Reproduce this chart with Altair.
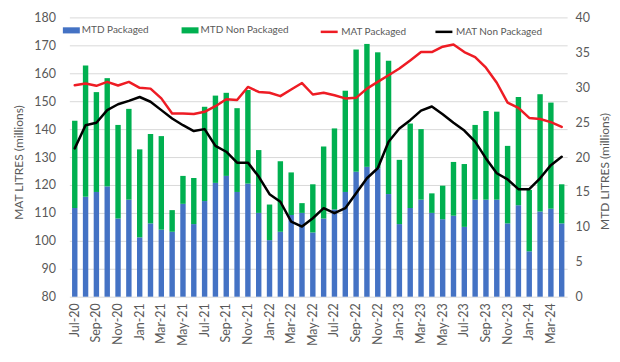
import altair as alt
import pandas as pd

months = [
    "Jul-20", "Aug-20", "Sep-20", "Oct-20", "Nov-20", "Dec-20",
    "Jan-21", "Feb-21", "Mar-21", "Apr-21", "May-21", "Jun-21",
    "Jul-21", "Aug-21", "Sep-21", "Oct-21", "Nov-21", "Dec-21",
    "Jan-22", "Feb-22", "Mar-22", "Apr-22", "May-22", "Jun-22",
    "Jul-22", "Aug-22", "Sep-22", "Oct-22", "Nov-22", "Dec-22",
    "Jan-23", "Feb-23", "Mar-23", "Apr-23", "May-23", "Jun-23",
    "Jul-23", "Aug-23", "Sep-23", "Oct-23", "Nov-23", "Dec-23",
    "Jan-24", "Feb-24", "Mar-24", "Apr-24",
]

mtd_packaged = [
    12.7, 14.3, 15.0, 15.8, 11.2, 13.9,
    8.5, 10.5, 9.6, 9.3, 13.3, 10.4,
    13.7, 16.3, 17.3, 15.0, 16.2, 12.0,
    8.1, 9.3, 11.7, 12.0, 9.2, 11.2,
    12.5, 15.0, 17.9, 18.6, 18.4, 14.7,
    10.4, 12.7, 13.9, 12.0, 11.1, 11.6,
    10.0, 13.9, 13.9, 13.9, 10.5, 13.1,
    6.5, 12.2, 12.6, 10.5,
]

mtd_non_packaged = [
    12.5, 18.8, 14.3, 15.5, 13.4, 13.0,
    12.6, 12.8, 13.4, 3.1, 4.0, 6.6,
    13.5, 12.5, 11.9, 12.0, 13.4, 9.0,
    5.1, 10.1, 6.1, 1.4, 6.9, 10.3,
    11.6, 14.5, 17.5, 17.6, 16.6, 19.1,
    9.2, 12.1, 10.1, 2.8, 4.8, 7.7,
    9.0, 10.7, 12.7, 12.6, 11.1, 15.5,
    8.8, 16.8, 15.2, 5.6,
]

mat_packaged = [
    155.7, 156.3, 155.5, 156.9, 155.6, 156.9,
    154.8, 154.5, 151.0, 145.6, 145.6, 145.4,
    146.2, 148.2, 150.7, 150.4, 155.1, 153.3,
    153.0, 151.8, 154.2, 156.5, 152.4, 153.0,
    152.1, 151.0, 151.2, 154.5, 156.9, 159.3,
    161.7, 164.6, 167.6, 167.6, 169.5, 170.3,
    167.6, 165.8, 162.0, 156.6, 149.5, 147.6,
    144.0, 143.6, 142.5, 140.8,
]

mat_non_packaged = [
    133.1, 141.4, 142.3, 146.8, 148.9, 150.1,
    151.5, 149.8, 146.8, 143.8, 141.4, 139.3,
    140.0, 134.0, 131.9, 128.0, 128.0, 123.0,
    116.7, 114.0, 106.9, 105.1, 108.1, 111.7,
    109.9, 111.7, 117.0, 122.4, 126.0, 135.5,
    140.2, 143.2, 146.6, 148.1, 145.3, 142.3,
    139.5, 135.5, 129.5, 124.2, 122.0, 118.5,
    118.5, 122.4, 127.1, 130.1,
]

bar_series = ["MTD Packaged", "MTD Non Packaged"]
line_series = ["MAT Packaged", "MAT Non Packaged"]
bar_colors = ["#4472C4", "#00B050"]
line_colors = ["#EE1C24", "#000000"]

n = len(months)
bars_df = pd.DataFrame({
    "month": months * 2,
    "series": [bar_series[0]] * n + [bar_series[1]] * n,
    "value": mtd_packaged + mtd_non_packaged,
    "order": [0] * n + [1] * n,
})
lines_df = pd.DataFrame({
    "month": months * 2,
    "series": [line_series[0]] * n + [line_series[1]] * n,
    "value": mat_packaged + mat_non_packaged,
})

FONT = "Lato"
GREY = "#595959"

x_enc = alt.X(
    "month:N",
    sort=months,
    scale=alt.Scale(domain=months, paddingInner=0.5, paddingOuter=0.25),
    axis=alt.Axis(
        values=months[::2], labelAngle=270, labelAlign="right",
        labelBaseline="middle", labelPadding=6, ticks=False, domain=False,
        grid=False, labelFontSize=12.5, labelColor=GREY, labelFont=FONT,
    ),
    title=None,
)

bars = alt.Chart(bars_df).mark_bar().encode(
    x=x_enc,
    y=alt.Y(
        "value:Q", stack="zero",
        scale=alt.Scale(domain=[0, 40], nice=False),
        axis=alt.Axis(
            orient="right", values=list(range(0, 41, 5)), grid=False,
            ticks=False, domain=False, labelPadding=8, labelFontSize=12.5,
            labelColor=GREY, labelFont=FONT,
            title="MTD LITRES (millions)", titleAngle=270, titleX=37.5,
            titleY=154, titleAlign="center", titleBaseline="middle",
            titleFontSize=12, titleFontWeight="normal", titleColor=GREY,
            titleFont=FONT,
        ),
    ),
    color=alt.Color(
        "series:N",
        scale=alt.Scale(domain=bar_series, range=bar_colors),
        legend=alt.Legend(
            orient="none", legendX=-6.5, legendY=4.5, direction="horizontal",
            title=None, symbolType="M-1,-0.36L1,-0.36L1,0.36L-1,0.36Z",
            symbolSize=289, symbolStrokeWidth=0, labelFontSize=10,
            labelColor=GREY, labelFont=FONT, labelOffset=2,
            columnPadding=33, padding=0, gridAlign="none",
        ),
    ),
    order=alt.Order("order:Q"),
)

lines = alt.Chart(lines_df).mark_line(strokeWidth=2.5, strokeJoin="round", strokeCap="round").encode(
    x=x_enc,
    y=alt.Y(
        "value:Q",
        scale=alt.Scale(domain=[80, 180], nice=False),
        axis=alt.Axis(
            orient="left", values=list(range(80, 181, 10)), grid=True,
            gridColor="#D9D9D9", gridWidth=1, ticks=False, domain=False,
            labelPadding=14, labelFontSize=12.5, labelColor=GREY,
            labelFont=FONT,
            title="MAT LITRES (millions)", titleAngle=270, titleX=-50.5,
            titleY=145, titleAlign="center", titleBaseline="middle",
            titleFontSize=12, titleFontWeight="normal", titleColor=GREY,
            titleFont=FONT,
        ),
    ),
    color=alt.Color(
        "series:N",
        scale=alt.Scale(domain=line_series, range=line_colors),
        legend=alt.Legend(
            orient="none", legendX=250.5, legendY=4.5, direction="horizontal",
            title=None, symbolType="stroke", symbolSize=289,
            symbolStrokeWidth=2.5, labelFontSize=10, labelColor=GREY,
            labelFont=FONT, labelOffset=2, columnPadding=23, padding=0,
            gridAlign="none",
        ),
    ),
)

chart = alt.layer(bars, lines).resolve_scale(
    y="independent", color="independent"
).resolve_legend(color="independent").properties(
    width=499, height=280,
    padding={"left": 61.5, "top": 9, "right": 45, "bottom": 50},
    autosize=alt.AutoSizeParams(type="none"),
    background="white",
).configure_view(strokeWidth=0)

chart.save("out.html", embed_options={"renderer": "svg", "actions": False})
